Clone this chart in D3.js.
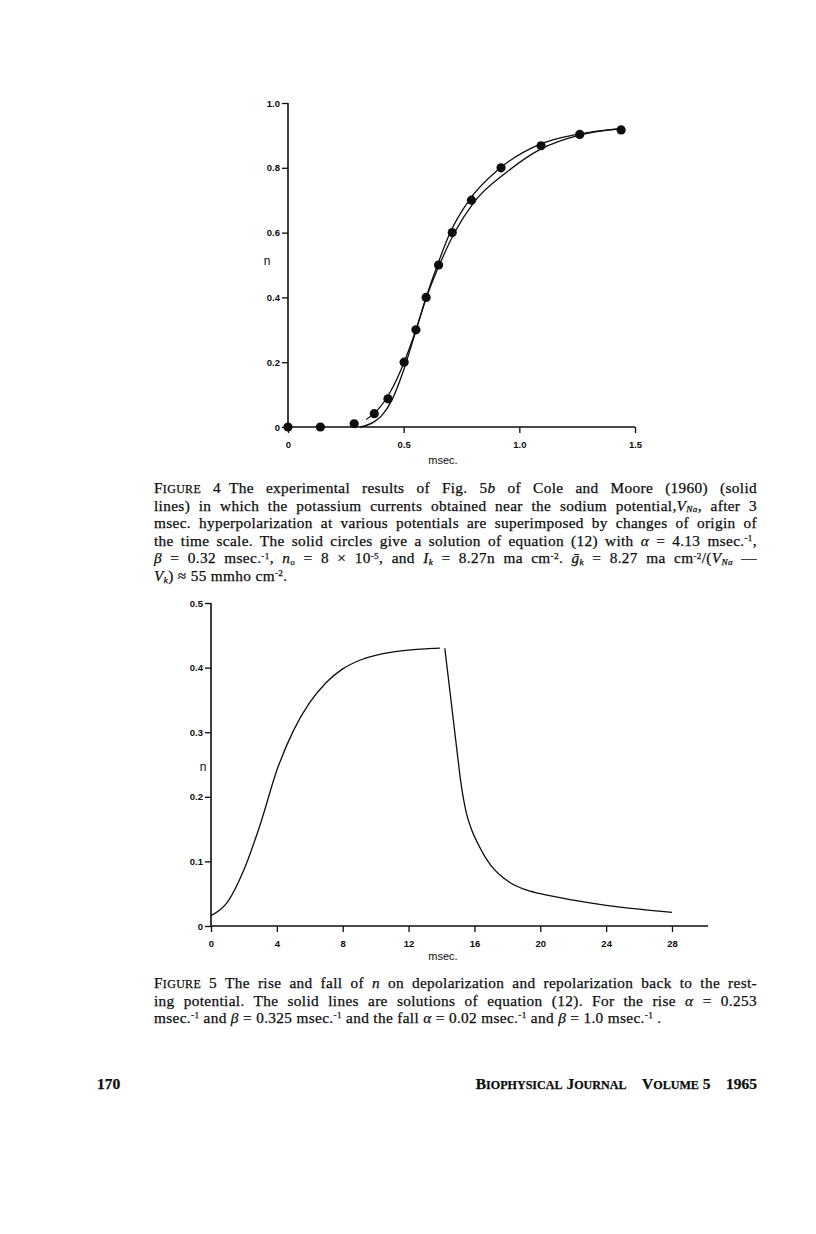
<!DOCTYPE html>
<html><head><meta charset="utf-8">
<script src="https://cdn.jsdelivr.net/npm/d3@7"></script>
<style>body{margin:0;background:#fff}svg{display:block}</style>
</head><body><svg id="c" width="816" height="1234"></svg>
<script>
// ---------- DATA ----------
// Figure 4: solid circles (solution of eq. 12)
const fig4CircleT = [0, 0.14, 0.286, 0.373, 0.432, 0.502, 0.553, 0.597, 0.651, 0.71, 0.793, 0.921, 1.094, 1.261, 1.44];
const fig4CircleN = [0, 0, 0.01, 0.041, 0.087, 0.2, 0.3, 0.4, 0.5, 0.6, 0.7, 0.8, 0.868, 0.903, 0.917];
// Figure 4: experimental curves (Cole and Moore)
const fig4CurveAT = [0.338, 0.387, 0.442, 0.502, 0.553, 0.597, 0.646, 0.701, 0.78, 0.91, 1.09, 1.261, 1.44];
const fig4CurveAN = [0.023, 0.052, 0.108, 0.2, 0.30, 0.40, 0.50, 0.60, 0.697, 0.795, 0.873, 0.905, 0.922];
const fig4CurveBT = [0.312, 0.37, 0.406, 0.449, 0.5, 0.543, 0.6, 0.658, 0.723, 0.802, 0.946, 1.09, 1.261, 1.44];
const fig4CurveBN = [0, 0.015, 0.036, 0.083, 0.176, 0.274, 0.403, 0.506, 0.604, 0.692, 0.787, 0.857, 0.901, 0.92];
const fig4XTicks = [0, 0.5, 1.0, 1.5];
const fig4XTickLabels = ["0", "0.5", "1.0", "1.5"];
const fig4YTicks = [0, 0.2, 0.4, 0.6, 0.8, 1.0];
const fig4YTickLabels = ["0", "0.2", "0.4", "0.6", "0.8", "1.0"];

// Figure 5: rise and fall of n
const fig5RiseT = [0, 1, 2, 3, 4, 5, 6, 7, 8, 9, 10, 11, 12, 13, 13.9];
const fig5RiseN = [0.016, 0.037, 0.087, 0.158, 0.241, 0.302, 0.346, 0.377, 0.398, 0.411, 0.419, 0.424, 0.427, 0.429, 0.43];
const fig5FallT = [14.2, 14.5, 14.9, 15.2, 15.5, 15.8, 16.2, 16.6, 17, 18, 19, 20, 22, 24, 26, 28];
const fig5FallN = [0.43, 0.366, 0.28, 0.218, 0.176, 0.151, 0.128, 0.109, 0.094, 0.070, 0.057, 0.050, 0.040, 0.032, 0.026, 0.021];
const fig5XTicks = [0, 4, 8, 12, 16, 20, 24, 28];
const fig5XTickLabels = ["0", "4", "8", "12", "16", "20", "24", "28"];
const fig5YTicks = [0, 0.1, 0.2, 0.3, 0.4, 0.5];
const fig5YTickLabels = ["0", "0.1", "0.2", "0.3", "0.4", "0.5"];

// Captions (markup: <i>, <sub>, <sup>, <sc>)
const fig4Caption = [
  "F<sc>IGURE</sc> 4\u2002The experimental results of Fig. 5<i>b</i> of Cole and Moore (1960) (solid",
  "lines) in which the potassium currents obtained near the sodium potential,<i>V</i><sub><i>Na</i></sub>, after 3",
  "msec. hyperpolarization at various potentials are superimposed by changes of origin of",
  "the time scale. The solid circles give a solution of equation (12) with <i>α</i> = 4.13 msec.<sup>-1</sup>,",
  "<i>β</i> = 0.32 msec.<sup>-1</sup>, <i>n</i><sub>o</sub> = 8 × 10<sup>-5</sup>, and <i>I</i><sub><i>k</i></sub> = 8.27n ma cm<sup>-2</sup>. <i>\u1E21</i><sub><i>k</i></sub> = 8.27 ma cm<sup>-2</sup>/(<i>V</i><sub><i>Na</i></sub> —",
  "<i>V</i><sub><i>k</i></sub>) ≈ 55 mmho cm<sup>-2</sup>."
];
const fig5Caption = [
  "F<sc>IGURE</sc> 5\u2002The rise and fall of <i>n</i> on depolarization and repolarization back to the rest-",
  "ing potential. The solid lines are solutions of equation (12). For the rise <i>α</i> = 0.253",
  "msec.<sup>-1</sup> and <i>β</i> = 0.325 msec.<sup>-1</sup> and the fall <i>α</i> = 0.02 msec.<sup>-1</sup> and <i>β</i> = 1.0 msec.<sup>-1</sup> ."
];
const pageNumber = "170";
const runningHead = "B<sc>IOPHYSICAL</sc> J<sc>OURNAL</sc>\u2003V<sc>OLUME</sc> 5\u20031965";

// ---------- DRAWING ----------
const svg = d3.select("#c");
const INK = "#0d0d0d";
const sansBold = "'Liberation Sans', Arial, sans-serif";
const serif = "'Liberation Serif', 'Times New Roman', serif";

function drawAxes(g, x, y, xTicks, xLabels, yTicks, yLabels, xEnd) {
  const ya = d3.axisLeft(y).tickValues(yTicks).tickSize(6).tickSizeOuter(0)
    .tickFormat((d, i) => yLabels[i]).tickPadding(2);
  const yg = g.append("g").attr("transform", `translate(${x.range()[0]},0)`).call(ya);
  const xa = d3.axisBottom(x).tickValues(xTicks).tickSize(6).tickSizeOuter(0)
    .tickFormat((d, i) => xLabels[i]).tickPadding(8);
  const xg = g.append("g").attr("transform", `translate(0,${y.range()[0]})`).call(xa);
  [yg, xg].forEach(a => {
    a.select(".domain").remove();
    a.selectAll("line").attr("stroke", INK).attr("stroke-width", 1.3);
    a.selectAll("text").attr("fill", INK).attr("font-family", sansBold)
      .attr("font-weight", "bold").attr("font-size", 9.5);
  });
  g.append("line").attr("x1", x.range()[0]).attr("x2", x.range()[0])
    .attr("y1", y.range()[0]).attr("y2", y.range()[1])
    .attr("stroke", INK).attr("stroke-width", 1.6);
  g.append("line").attr("x1", x.range()[0]).attr("x2", xEnd)
    .attr("y1", y.range()[0]).attr("y2", y.range()[0])
    .attr("stroke", INK).attr("stroke-width", 1.6);
}

// ---- Figure 4 ----
{
  const x = d3.scaleLinear([0, 1.5], [288, 635]);
  const y = d3.scaleLinear([0, 1], [427, 103]);
  const g = svg.append("g");
  drawAxes(g, x, y, fig4XTicks, fig4XTickLabels, fig4YTicks, fig4YTickLabels, x(1.5));
  const line = d3.line().x(d => x(d[0])).y(d => y(d[1])).curve(d3.curveMonotoneX);
  g.append("path").attr("d", line(fig4CurveAT.map((t, i) => [t, fig4CurveAN[i]])))
    .attr("fill", "none").attr("stroke", INK).attr("stroke-width", 1.3);
  g.append("path").attr("d", line(fig4CurveBT.map((t, i) => [t, fig4CurveBN[i]])))
    .attr("fill", "none").attr("stroke", INK).attr("stroke-width", 1.3);
  g.selectAll("circle.pt").data(fig4CircleT.map((t, i) => [t, fig4CircleN[i]])).join("circle")
    .attr("class", "pt").attr("cx", d => x(d[0])).attr("cy", d => y(d[1])).attr("r", 4.6).attr("fill", INK);
  g.append("text").attr("x", 443).attr("y", 464).attr("text-anchor", "middle")
    .attr("font-family", sansBold).attr("font-size", 11).attr("fill", INK).text("msec.");
  g.append("text").attr("x", 267).attr("y", 265).attr("text-anchor", "middle")
    .attr("font-family", sansBold).attr("font-size", 12).attr("fill", INK).text("n");
}

// ---- Figure 5 ----
{
  const x = d3.scaleLinear([0, 28], [211, 672]);
  const y = d3.scaleLinear([0, 0.5], [926, 603]);
  const g = svg.append("g");
  drawAxes(g, x, y, fig5XTicks, fig5XTickLabels, fig5YTicks, fig5YTickLabels, 708);
  const line = d3.line().x(d => x(d[0])).y(d => y(d[1])).curve(d3.curveMonotoneX);
  g.append("path").attr("d", line(fig5RiseT.map((t, i) => [t, fig5RiseN[i]])))
    .attr("fill", "none").attr("stroke", INK).attr("stroke-width", 1.3);
  g.append("path").attr("d", line(fig5FallT.map((t, i) => [t, fig5FallN[i]])))
    .attr("fill", "none").attr("stroke", INK).attr("stroke-width", 1.3);
  g.append("text").attr("x", 443).attr("y", 960).attr("text-anchor", "middle")
    .attr("font-family", sansBold).attr("font-size", 11).attr("fill", INK).text("msec.");
  g.append("text").attr("x", 203).attr("y", 771).attr("text-anchor", "middle")
    .attr("font-family", sansBold).attr("font-size", 12).attr("fill", INK).text("n");
}

// ---- Text with simple markup ----
function parse(str) {
  const parts = str.split(/(<\/?(?:i|sub|sup|sc)>)/);
  const st = { i: 0, sub: 0, sup: 0, sc: 0 };
  const out = [];
  parts.forEach(p => {
    const m = p.match(/^<(\/?)(i|sub|sup|sc)>$/);
    if (m) { st[m[2]] += m[1] ? -1 : 1; return; }
    if (p.length) out.push({ t: p, i: st.i > 0, sub: st.sub > 0, sup: st.sup > 0, sc: st.sc > 0 });
  });
  return out;
}
function writeLine(x0, yb, str, fs, opts = {}) {
  const t = svg.append("text").attr("x", x0).attr("y", yb)
    .attr("font-family", serif).attr("font-size", fs).attr("fill", INK)
    .attr("stroke", INK).attr("stroke-width", 0.25).style("white-space", "pre");
  if (opts.bold) t.attr("font-weight", "bold");
  if (opts.anchor) t.attr("text-anchor", opts.anchor);
  if (opts.ls) t.attr("letter-spacing", opts.ls);
  let cur = 0;
  parse(str).forEach(s => {
    const want = s.sup ? -fs * 0.32 : s.sub ? fs * 0.1 : 0;
    const ts = t.append("tspan").text(s.t);
    if (want !== cur) { ts.attr("dy", want - cur); cur = want; }
    if (s.i) ts.attr("font-style", "italic");
    if (s.sub || s.sup) ts.attr("font-size", fs * 0.6);
    if (s.sc) ts.attr("font-size", fs * 0.78);
  });
  return t;
}
// justified paragraph
function paragraph(lines, x0, y0, lh, width, fs) {
  lines.forEach((str, k) => {
    const t = writeLine(x0, y0 + k * lh, str, fs, { ls: 0.35 });
    if (k < lines.length - 1) {
      const w = t.node().getComputedTextLength();
      const n = (t.text().match(/ /g) || []).length;
      if (n > 0) t.attr("word-spacing", Math.max(0, (width - w) / n));
    }
  });
}
paragraph(fig4Caption, 154, 493, 17.6, 603, 15.3);
paragraph(fig5Caption, 154, 988, 17.6, 603, 15.3);
writeLine(97, 1089, pageNumber, 15.5, { bold: true });
writeLine(757, 1089, runningHead, 15.5, { bold: true, anchor: "end" });
</script></body></html>
